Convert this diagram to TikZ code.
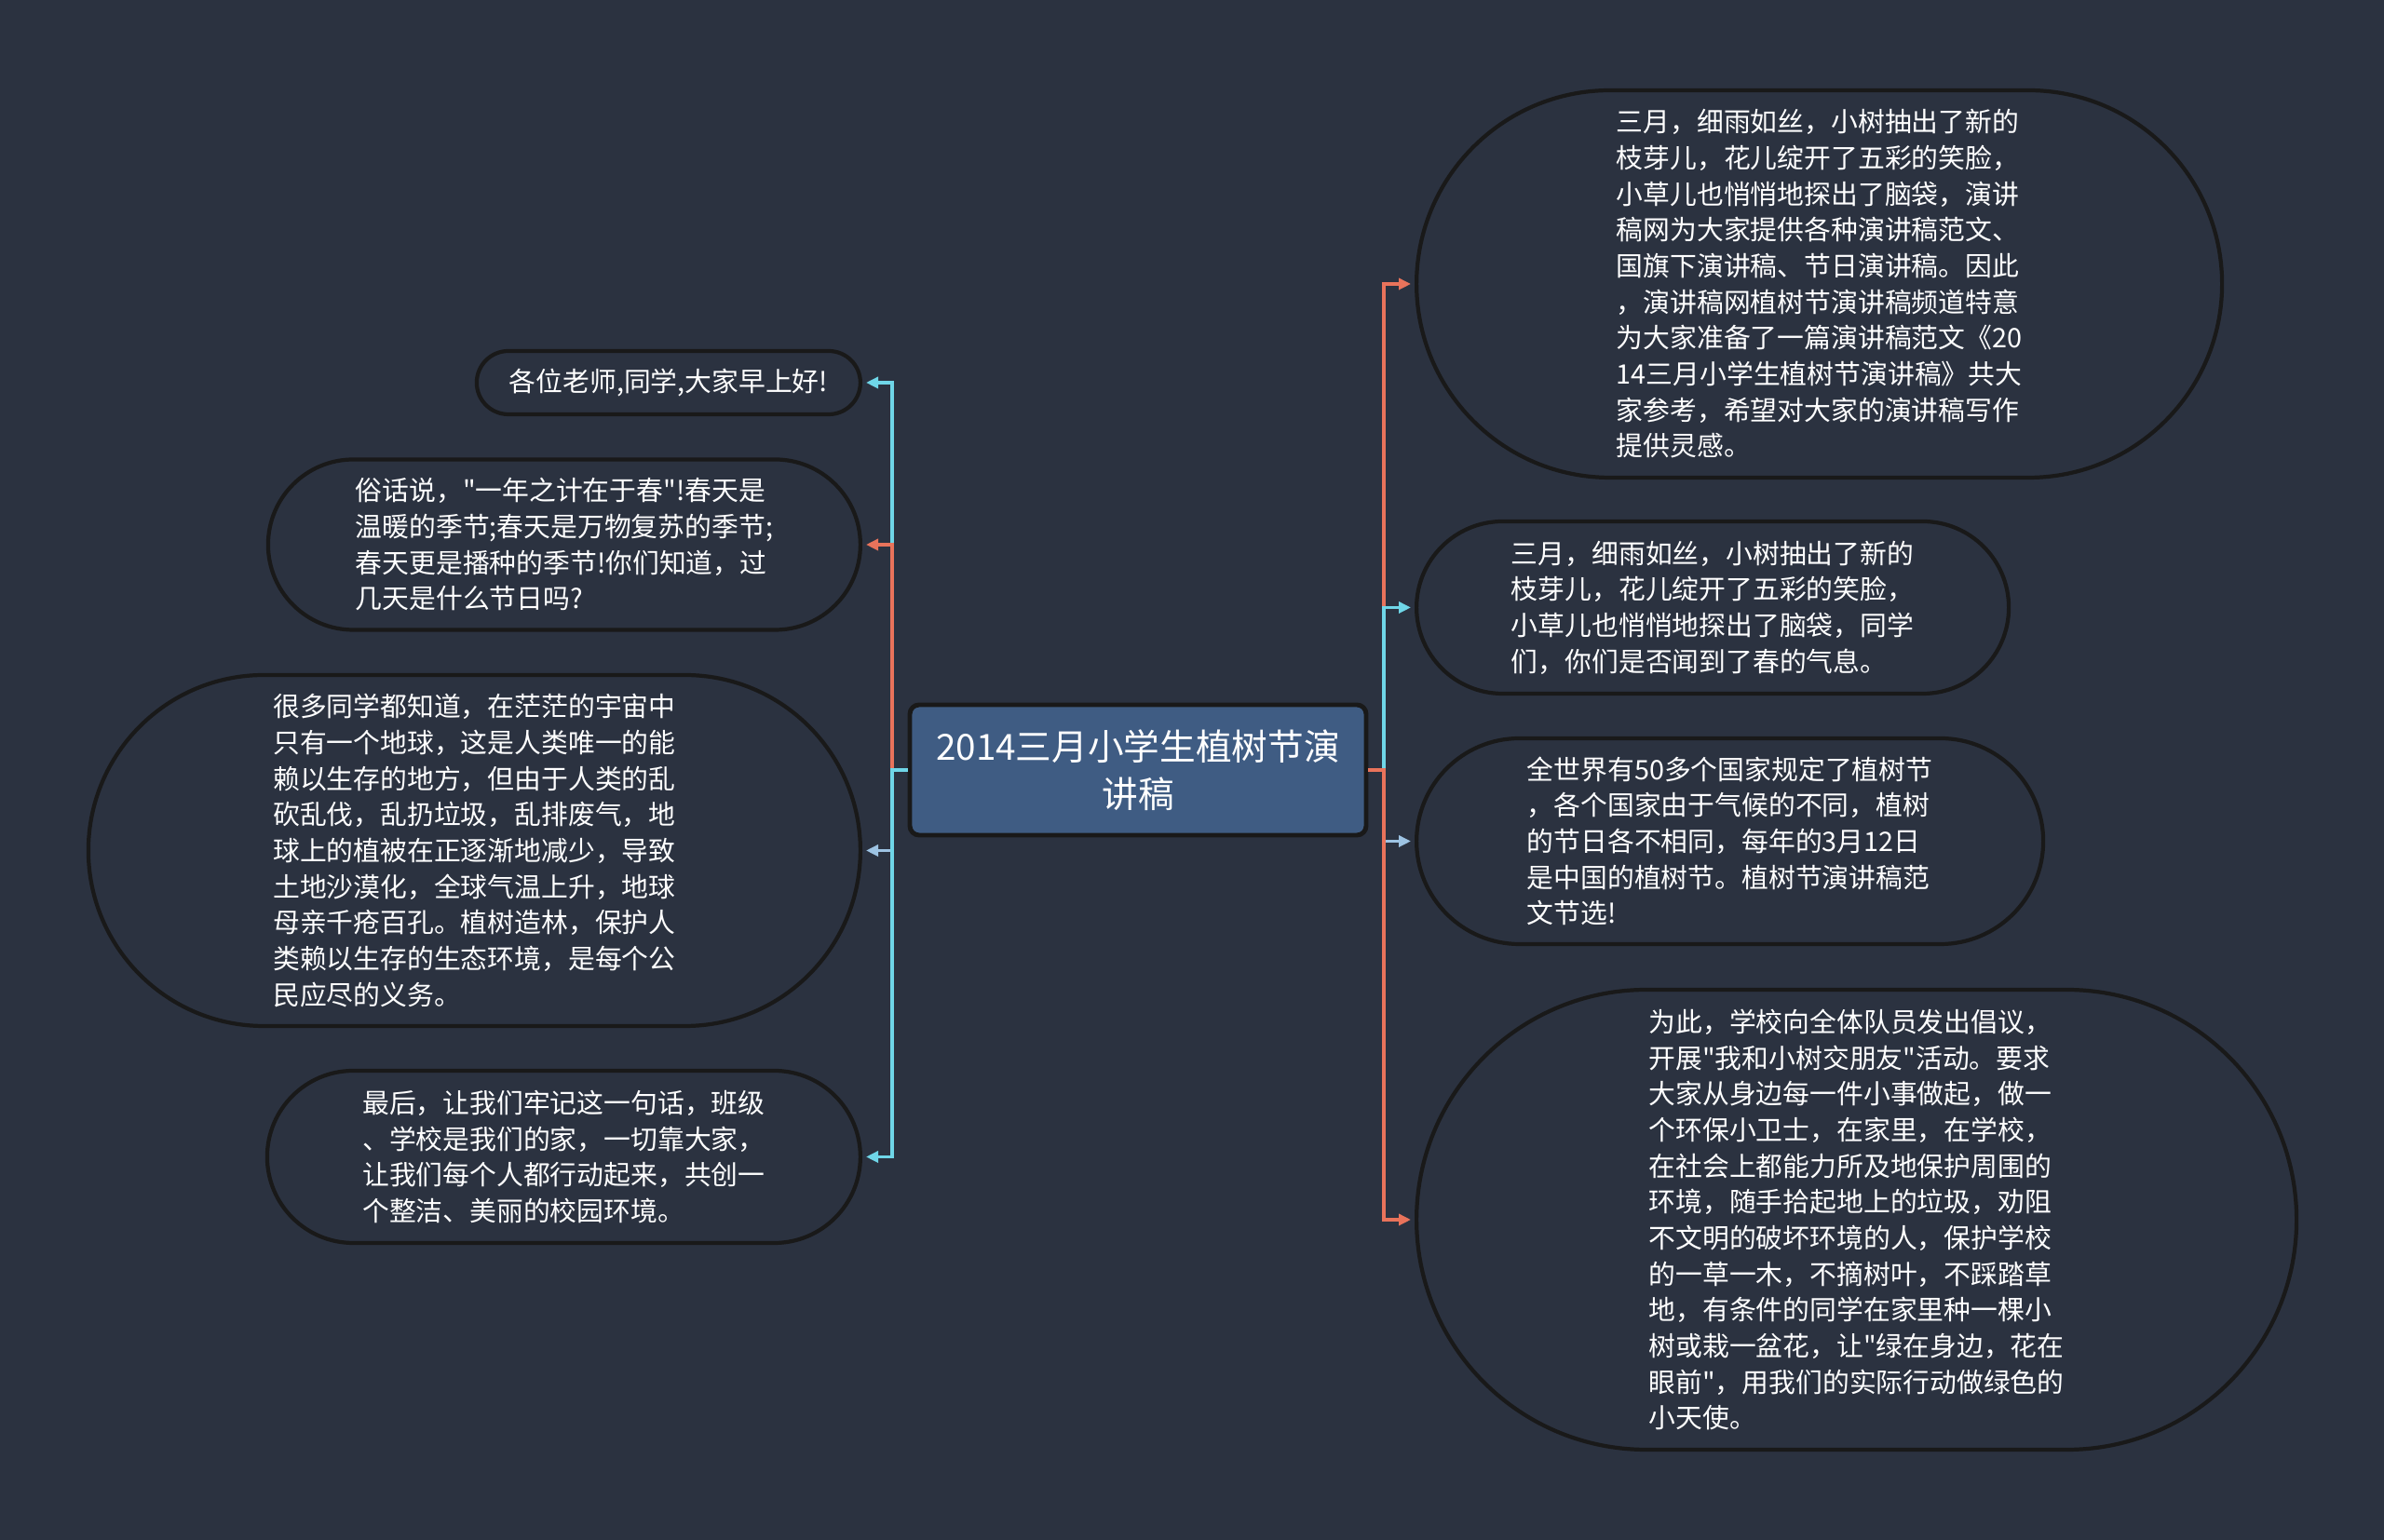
\documentclass[tikz,border=0pt]{standalone}
\usepackage{fontspec}
\setmainfont{Noto Sans CJK SC}[Ligatures=TeXOff]
\usetikzlibrary{arrows.meta}
\usetikzlibrary{calc}
\definecolor{bgcol}{HTML}{2B3240}
\definecolor{rootcol}{HTML}{3F5C83}
\definecolor{linecyan}{HTML}{6FD6E8}
\definecolor{lineorange}{HTML}{E9735B}
\definecolor{lineblue}{HTML}{9DC3E3}
\tikzset{
    topic/.style={draw=black!90, line width=1.2pt, fill=bgcol, text=white, inner sep=0pt, align=left, font={\fontsize{8.2}{11}\selectfont}},
    root/.style={draw=black!90, line width=1.4pt, fill=rootcol, text=white, rounded corners=1mm, align=center, font={\fontsize{11}{14.4}\selectfont}, minimum width=4.9cm, minimum height=1.4cm}
}
\newcommand{\drawbranch}[1]{\draw[#1, line width=1.1pt, -{Triangle[length=1.3mm, width=1.2mm]}, shorten >=0.4mm]}

\begin{document}
\begin{tikzpicture}
    % Draw background
    \fill[bgcol] (0,0) rectangle (25.6,16.54);
    \useasboundingbox (0,0) rectangle (25.6,16.54);

    % Draw root
    \node[root] (root) at (12.22, 8.27) {2014三月小学生植树节演\\讲稿};

    % Draw left topics
    \node[topic, anchor=east, minimum width=4.12cm, minimum height=0.68cm, rounded corners=0.34cm] (greet) at (9.26, 12.43) {各位老师,同学,大家早上好!};
    \node[topic, anchor=east, minimum width=6.36cm, minimum height=1.83cm, rounded corners=0.915cm] (spring) at (9.26, 10.69) {俗话说，"一年之计在于春"!春天是\\温暖的季节;春天是万物复苏的季节;\\春天更是播种的季节!你们知道，过\\几天是什么节日吗?};
    \node[topic, anchor=east, minimum width=8.29cm, minimum height=3.77cm, rounded corners=1.885cm] (earth) at (9.26, 7.405) {很多同学都知道，在茫茫的宇宙中\\只有一个地球，这是人类唯一的能\\赖以生存的地方，但由于人类的乱\\砍乱伐，乱扔垃圾，乱排废气，地\\球上的植被在正逐渐地减少，导致\\土地沙漠化，全球气温上升，地球\\母亲千疮百孔。植树造林，保护人\\类赖以生存的生态环境，是每个公\\民应尽的义务。};
    \node[topic, anchor=east, minimum width=6.37cm, minimum height=1.85cm, rounded corners=0.925cm] (finally) at (9.26, 4.115) {最后，让我们牢记这一句话，班级\\、学校是我们的家，一切靠大家，\\让我们每个人都行动起来，共创一\\个整洁、美丽的校园环境。};

    % Draw right topics
    \node[topic, anchor=west, minimum width=8.65cm, minimum height=4.16cm, rounded corners=2.08cm] (intro) at (15.19, 13.49) {三月，细雨如丝，小树抽出了新的\\枝芽儿，花儿绽开了五彩的笑脸，\\小草儿也悄悄地探出了脑袋，演讲\\稿网为大家提供各种演讲稿范文、\\国旗下演讲稿、节日演讲稿。因此\\，演讲稿网植树节演讲稿频道特意\\为大家准备了一篇演讲稿范文《20\\14三月小学生植树节演讲稿》共大\\家参考，希望对大家的演讲稿写作\\提供灵感。};
    \node[topic, anchor=west, minimum width=6.36cm, minimum height=1.85cm, rounded corners=0.925cm] (march) at (15.19, 10.015) {三月，细雨如丝，小树抽出了新的\\枝芽儿，花儿绽开了五彩的笑脸，\\小草儿也悄悄地探出了脑袋，同学\\们，你们是否闻到了春的气息。};
    \node[topic, anchor=west, minimum width=6.73cm, minimum height=2.21cm, rounded corners=1.105cm] (world) at (15.19, 7.505) {全世界有50多个国家规定了植树节\\，各个国家由于气候的不同，植树\\的节日各不相同，每年的3月12日\\是中国的植树节。植树节演讲稿范\\文节选!};
    \node[topic, anchor=west, minimum width=9.45cm, minimum height=4.94cm, rounded corners=2.47cm] (appeal) at (15.19, 3.44) {为此，学校向全体队员发出倡议，\\开展"我和小树交朋友"活动。要求\\大家从身边每一件小事做起，做一\\个环保小卫士，在家里，在学校，\\在社会上都能力所及地保护周围的\\环境，随手拾起地上的垃圾，劝阻\\不文明的破坏环境的人，保护学校\\的一草一木，不摘树叶，不踩踏草\\地，有条件的同学在家里种一棵小\\树或栽一盆花，让"绿在身边，花在\\眼前"，用我们的实际行动做绿色的\\小天使。};

    % Draw branches
    \coordinate (jl) at (9.58, 8.27);
    \coordinate (jr) at (14.86, 8.27);
    \drawbranch{linecyan} (root.west) -- (jl) |- (greet.east);
    \drawbranch{lineorange} (root.west) -- (jl) |- (spring.east);
    \drawbranch{lineblue} (root.west) -- (jl) |- (earth.east);
    \drawbranch{linecyan} (root.west) -- (jl) |- (finally.east);
    \drawbranch{lineorange} (root.east) -- (jr) |- (intro.west);
    \drawbranch{linecyan} (root.east) -- (jr) |- (march.west);
    \drawbranch{lineblue} (root.east) -- (jr) |- (world.west);
    \drawbranch{lineorange} (root.east) -- (jr) |- (appeal.west);
\end{tikzpicture}
\end{document}
